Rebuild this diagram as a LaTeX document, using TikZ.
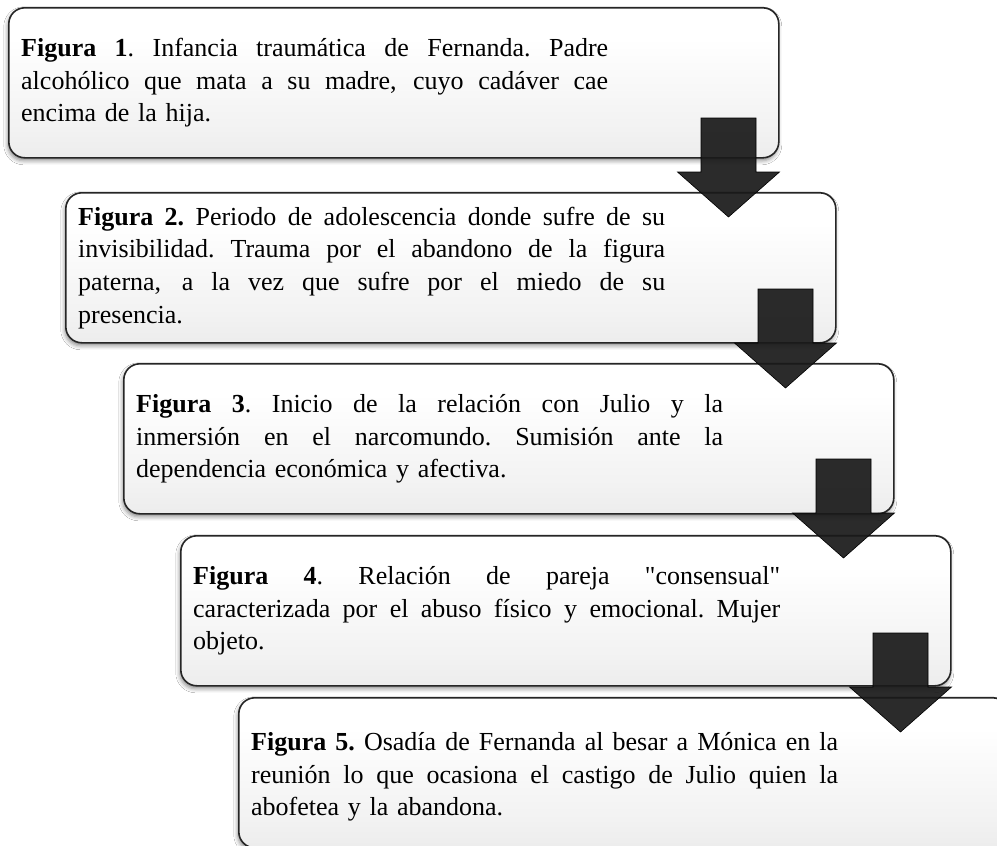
\documentclass[tikz,border=0pt]{standalone}
\usepackage{fontspec}
\setmainfont{Liberation Serif}
\usetikzlibrary{shadows.blur}
\pgfdeclareverticalshading{boxshade}{100bp}{color(0bp)=(black!13); color(35bp)=(black!5); color(65bp)=(white); color(100bp)=(white)}
\newcommand{\jl}[1]{\leavevmode\hbox to 587pt{\spaceskip=0.25em plus 1fil\relax\xspaceskip=0.25em plus 1fil\relax #1}}
\newcommand{\blockarrowat}[2]{%
  \draw[blockarrow] (#1-27.5,#2) -- (#1+27.5,#2) -- (#1+27.5,#2+54) -- (#1+51,#2+54)
    -- (#1,#2+99) -- (#1-51,#2+54) -- (#1-27.5,#2+54) -- cycle;}
\tikzset{
  flowbox/.style={draw=black!85, line width=1.6pt, rounded corners=16pt, shading=boxshade,
    anchor=north west, minimum width=770pt, minimum height=150pt, inner sep=0pt,
    blur shadow={shadow xshift=-1pt, shadow yshift=-3pt, shadow blur radius=4pt, shadow opacity=45}},
  flowtext/.style={anchor=west, inner sep=0pt, text width=587pt, align=left,
    font=\fontsize{26}{32.7}\selectfont},
  blockarrow/.style={fill=black!90, fill opacity=0.92, draw=black, line width=0.6pt}
}
\begin{document}
\begin{tikzpicture}[x=1pt,y=-1pt]
\useasboundingbox (0,0) rectangle (997,846);
\fill[white] (0,0) rectangle (997,846);
\begin{scope}
\clip (0,0) rectangle (997,846);
\node[flowbox] (b1) at (8,7) {};
\node[flowbox] (b2) at (65,192) {};
\node[flowbox] (b3) at (123,363) {};
\node[flowbox] (b4) at (180,535) {};
\node[flowbox] (b5) at (238,697) {};
\end{scope}
\node[flowtext] (t1) at ([xshift=13pt]b1.west) {%
\jl{\textbf{Figura 1}. Infancia traumática de Fernanda. Padre}\\
\jl{alcohólico que mata a su madre, cuyo cadáver cae}\\
encima de la hija.};
\node[flowtext] (t2) at ([xshift=13pt]b2.west) {%
\jl{\textbf{Figura 2.} Periodo de adolescencia donde sufre de su}\\
\jl{invisibilidad. Trauma por el abandono de la figura}\\
\jl{paterna, a la vez que sufre por el miedo de su}\\
presencia.};
\node[flowtext] (t3) at ([xshift=13pt]b3.west) {%
\jl{\textbf{Figura 3}. Inicio de la relación con Julio y la}\\
\jl{inmersión en el narcomundo. Sumisión ante la}\\
dependencia económica y afectiva.};
\node[flowtext] (t4) at ([xshift=13pt]b4.west) {%
\jl{\textbf{Figura 4}. Relación de pareja \textquotedbl consensual\textquotedbl}\\
\jl{caracterizada por el abuso físico y emocional. Mujer}\\
objeto.};
\begin{scope}
\clip (0,0) rectangle (997,846);
\node[flowtext] (t5) at ([xshift=13pt,yshift=-4pt]b5.west) {%
\jl{\textbf{Figura 5.} Osadía de Fernanda al besar a Mónica en la}\\
\jl{reunión lo que ocasiona el castigo de Julio quien la}\\
abofetea y la abandona.};
\end{scope}
\blockarrowat{728.5}{118}
\blockarrowat{785.5}{289}
\blockarrowat{843.5}{459}
\blockarrowat{900.5}{633}
\end{tikzpicture}
\end{document}
